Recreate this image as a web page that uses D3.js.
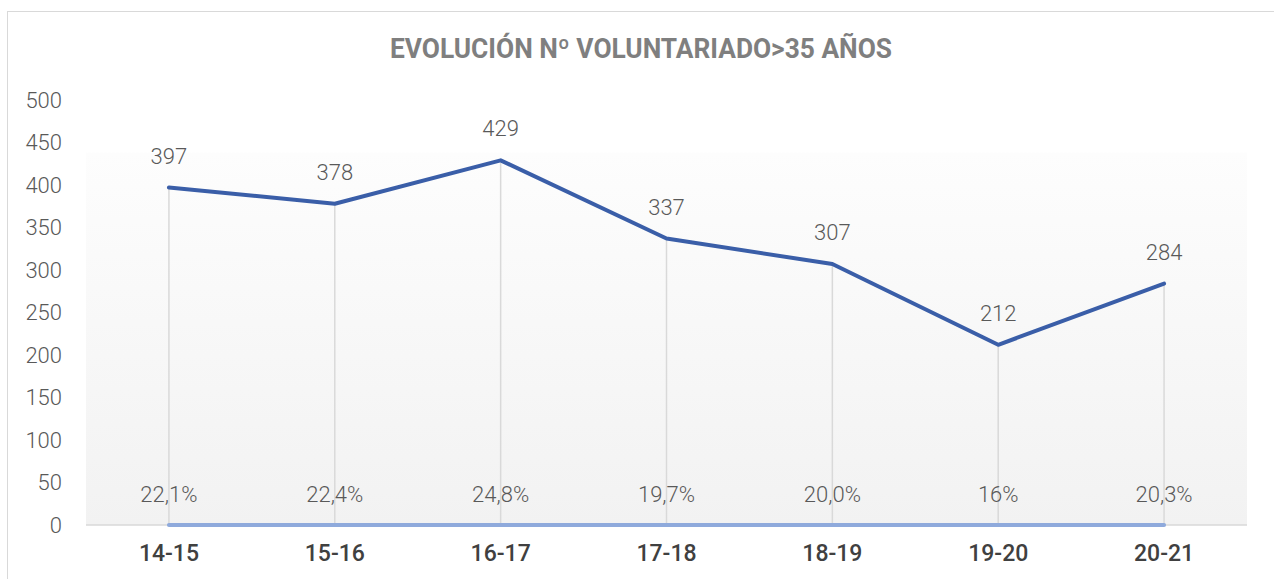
<!DOCTYPE html>
<html>
<head>
<meta charset="utf-8">
<script src="https://cdn.jsdelivr.net/npm/d3@7"></script>
<style>
  body { margin: 0; background: #fff; }
  svg text { font-family: "Roboto", "Liberation Sans Narrow", sans-serif; }
</style>
</head>
<body>
<div id="chart"></div>
<script>
const categories = ["14-15", "15-16", "16-17", "17-18", "18-19", "19-20", "20-21"];
const volunteers = [397, 378, 429, 337, 307, 212, 284];
const percentLabels = ["22,1%", "22,4%", "24,8%", "19,7%", "20,0%", "16%", "20,3%"];
const percentValues = [0, 0, 0, 0, 0, 0, 0]; // series drawn along the zero line
const yTicks = [0, 50, 100, 150, 200, 250, 300, 350, 400, 450, 500];

const width = 1274, height = 579;
const margin = {left: 86, right: 27, top: 100, bottom: 54};

let svg = d3.select("#chart")
    .append("svg")
    .attr("width", width)
    .attr("height", height);

// chart frame (cropped on the right and bottom)
svg.append("rect")
    .attr("x", 7.5).attr("y", 11.5)
    .attr("width", width + 20).attr("height", height + 20)
    .attr("fill", "#fff")
    .attr("stroke", "#d9d9d9");

let x = d3.scaleBand()
    .domain(categories)
    .range([margin.left, width - margin.right]);

let y = d3.scaleLinear()
    .domain([0, 500])
    .range([height - margin.bottom, margin.top]);

let cx = d => x(d) + x.bandwidth() / 2;

// plot area gradient
let defs = svg.append("defs");
let grad = defs.append("linearGradient")
    .attr("id", "bg").attr("x1", 0).attr("y1", 0).attr("x2", 0).attr("y2", 1);
grad.append("stop").attr("offset", "0%").attr("stop-color", "#fdfdfd");
grad.append("stop").attr("offset", "100%").attr("stop-color", "#f2f2f2");

svg.append("rect")
    .attr("x", margin.left)
    .attr("y", y(438))
    .attr("width", width - margin.right - margin.left)
    .attr("height", y(0) - y(438))
    .attr("fill", "url(#bg)");

// title
svg.append("text")
    .attr("x", 641)
    .attr("y", 58)
    .attr("text-anchor", "middle")
    .attr("textLength", 502)
    .attr("lengthAdjust", "spacingAndGlyphs")
    .style("font-size", "27px")
    .style("font-weight", "bold")
    .attr("fill", "#7f7f7f")
    .text("EVOLUCIÓN Nº VOLUNTARIADO>35 AÑOS");

// y axis labels
svg.append("g")
    .attr("transform", `translate(${margin.left - 24}, 0)`)
    .call(d3.axisLeft(y).tickValues(yTicks).tickSize(0).tickPadding(0))
    .call(g => g.select(".domain").remove())
    .call(g => g.selectAll("text")
        .style("font-size", "22px")
        .style("font-weight", "300")
        .attr("fill", "#595959"));

// zero line
svg.append("line")
    .attr("x1", margin.left).attr("x2", width - margin.right)
    .attr("y1", y(0)).attr("y2", y(0))
    .attr("stroke", "#d9d9d9").attr("stroke-width", 1.5);

// drop lines
svg.append("g").selectAll("line")
    .data(categories)
    .enter()
    .append("line")
    .attr("x1", d => cx(d)).attr("x2", d => cx(d))
    .attr("y1", (d, i) => y(volunteers[i]))
    .attr("y2", y(0))
    .attr("stroke", "#d9d9d9")
    .attr("stroke-width", 1.5);

// percent series along zero
svg.append("path")
    .datum(percentValues)
    .attr("fill", "none")
    .attr("stroke", "#8faadc")
    .attr("stroke-width", 4)
    .attr("stroke-linecap", "round")
    .attr("d", d3.line().x((d, i) => cx(categories[i])).y(d => y(d)));

// main line
svg.append("path")
    .datum(volunteers)
    .attr("fill", "none")
    .attr("stroke", "#3a5ea8")
    .attr("stroke-width", 4)
    .attr("stroke-linecap", "round")
    .attr("stroke-linejoin", "round")
    .attr("d", d3.line().x((d, i) => cx(categories[i])).y(d => y(d)));

// value labels
svg.append("g").selectAll("text")
    .data(volunteers)
    .enter()
    .append("text")
    .attr("x", (d, i) => cx(categories[i]))
    .attr("y", d => y(d) - 24)
    .attr("text-anchor", "middle")
    .style("font-size", "22px")
    .style("font-weight", "300")
    .attr("fill", "#595959")
    .text(d => d);

// percent labels
svg.append("g").selectAll("text")
    .data(percentLabels)
    .enter()
    .append("text")
    .attr("x", (d, i) => cx(categories[i]))
    .attr("y", (d, i) => y(percentValues[i]) - 23)
    .attr("text-anchor", "middle")
    .style("font-size", "22px")
    .style("font-weight", "300")
    .attr("fill", "#595959")
    .text(d => d);

// x axis labels
svg.append("g")
    .attr("transform", `translate(0, ${y(0)})`)
    .call(d3.axisBottom(x).tickSize(0).tickPadding(20))
    .call(g => g.select(".domain").remove())
    .call(g => g.selectAll("text")
        .style("font-size", "23px")
        .style("font-weight", "500")
        .attr("fill", "#404040"));
</script>
</body>
</html>
